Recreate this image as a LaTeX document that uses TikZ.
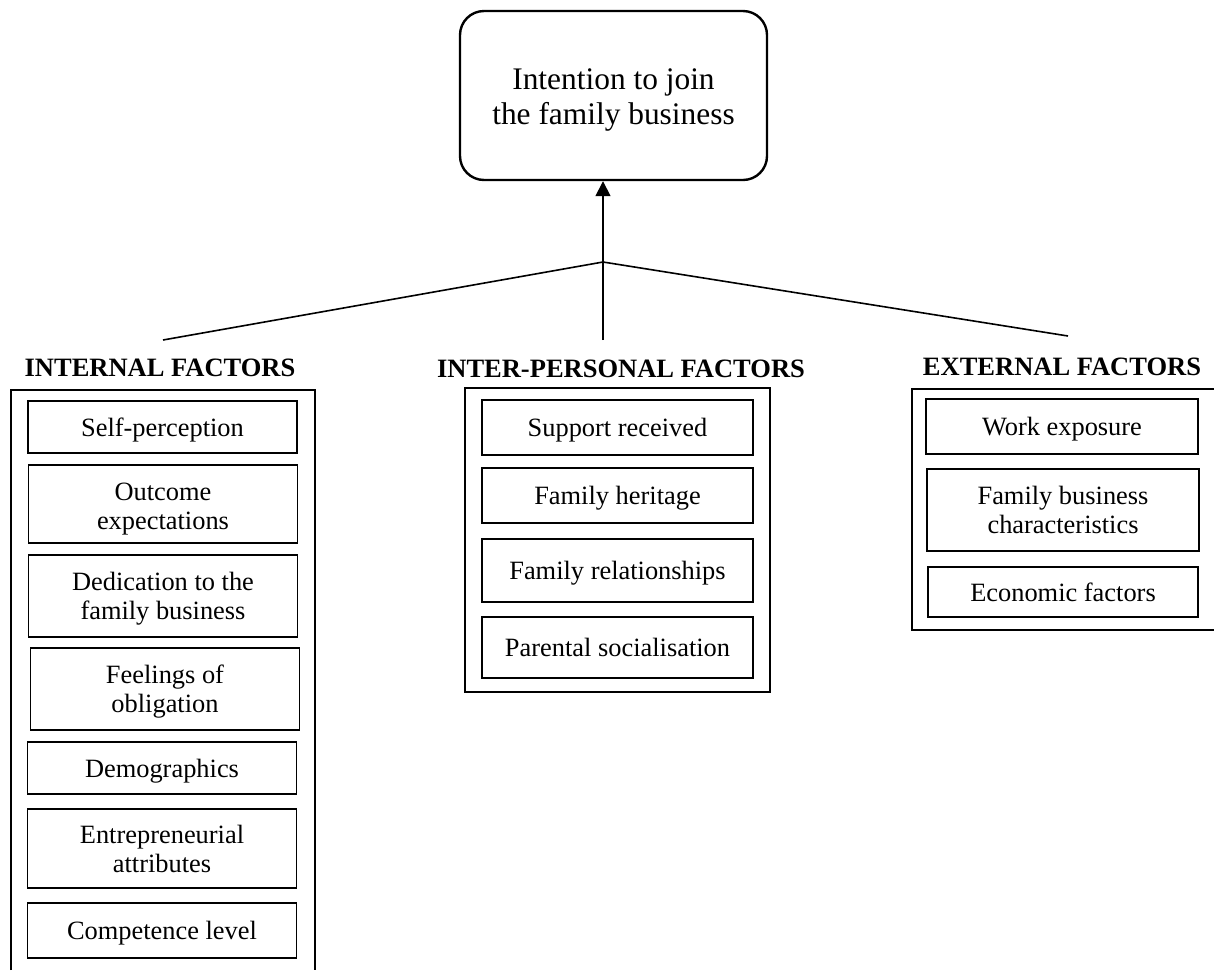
\documentclass[tikz,border=0pt]{standalone}
\usepackage{fontspec}
\setmainfont{Liberation Serif}
\usetikzlibrary{arrows.meta}
\newcommand{\ctext}[2][-1.75pt]{\raisebox{#1}[\height][\depth]{\begin{tabular}{@{}c@{}}#2\end{tabular}}}
\begin{document}
\begin{tikzpicture}[x=0.5pt,y=-0.5pt,
  fbox/.style={draw, line width=0.9pt, inner sep=0pt, align=center,
    font=\fontsize{13.2}{14.3}\selectfont},
  ibox/.style={fbox, minimum width=134.5pt},
  pbox/.style={fbox, minimum width=135.5pt},
  ebox/.style={fbox, minimum width=136pt},
  heading/.style={anchor=base, inner sep=0pt, font=\fontsize{13.25}{14}\selectfont\bfseries},
  frame/.style={line width=1.3pt},
  conn/.style={line width=0.8pt}]
\useasboundingbox (0,0) rectangle (1214,970);

% goal
\node[draw, line width=1.2pt, rounded corners=12pt, minimum width=153.5pt, minimum height=84.5pt,
  inner sep=0pt, font=\fontsize{15.7}{17.5}\selectfont] (goal) at (613.5,95.5)
  {\ctext[-2pt]{Intention to join\\the family business}};

% connectors
\coordinate (apex) at (603,262);
\coordinate (lend) at (163,340);
\coordinate (rend) at (1068,336);
\coordinate (foot) at (603,340);
\draw[conn] (lend) -- (apex) -- (rend);
\draw[conn, -{Triangle[width=7.5pt,length=7.5pt]}] (foot) -- (foot |- goal.south);

% headings
\node[heading] (hint) at (160,376) {INTERNAL FACTORS};
\node[heading] (hper) at (621,377) {INTER-PERSONAL FACTORS};
\node[heading] (hext) at (1062,375) {EXTERNAL FACTORS};

% containers
\draw[frame] (11,970) -- (11,390) -- (315,390) -- (315,970);
\draw[frame] (465,388) rectangle (770,692);
\draw[frame] (1214,389) -- (912,389) -- (912,630) -- (1214,630);

% internal factors
\node[ibox, minimum height=26pt]   (sp)   at (162.5,427)   {\ctext{Self-perception}};
\node[ibox, minimum height=39pt]   (oe)   at (163,504)     {\ctext[-2.5pt]{Outcome\\expectations}};
\node[ibox, minimum height=41pt]   (ded)  at (163,596)     {\ctext{Dedication to the\\family business}};
\node[ibox, minimum height=41pt]   (fo)   at (165,689)     {\ctext{Feelings of\\obligation}};
\node[ibox, minimum height=26pt]   (dem)  at (162,768)     {\ctext{Demographics}};
\node[ibox, minimum height=39.5pt] (ent)  at (162,848.5)   {\ctext{Entrepreneurial\\attributes}};
\node[ibox, minimum height=27.5pt] (comp) at (162,930.5)   {\ctext{Competence level}};

% inter-personal factors
\node[pbox, minimum height=27.5pt] (sr) at (617.5,427.5) {\ctext{Support received}};
\node[pbox, minimum height=27.5pt] (fh) at (617.5,495.5) {\ctext{Family heritage}};
\node[pbox, minimum height=31.5pt] (fr) at (617.5,570.5) {\ctext{Family relationships}};
\node[pbox, minimum height=30.5pt] (ps) at (617.5,647.5) {\ctext{Parental socialisation}};

% external factors
\node[ebox, minimum height=27.5pt] (we)  at (1062,426.5) {\ctext{Work exposure}};
\node[ebox, minimum height=41pt]   (fbc) at (1063,510)   {\ctext{Family business\\characteristics}};
\node[ebox, minimum height=25pt, minimum width=135pt] (eco) at (1063,592) {\ctext{Economic factors}};
\end{tikzpicture}
\end{document}
